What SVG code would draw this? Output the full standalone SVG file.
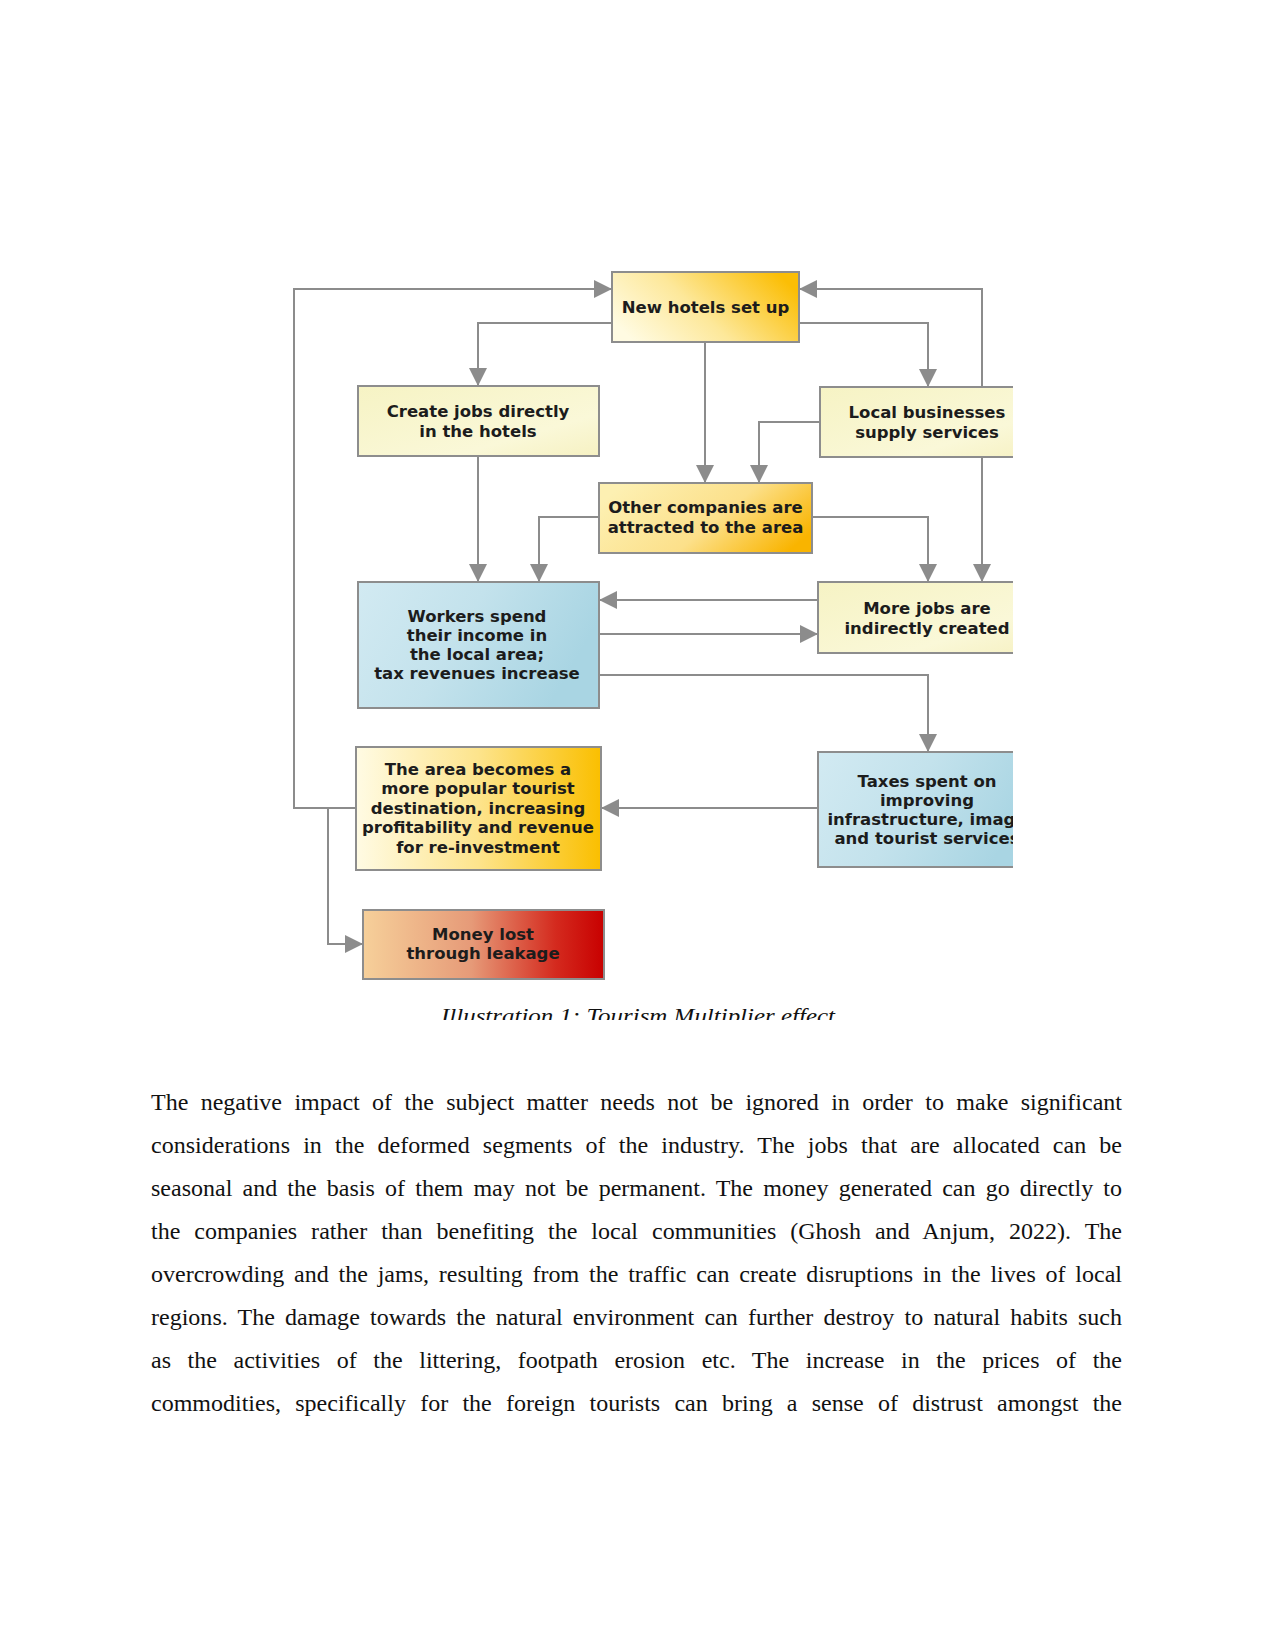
<svg xmlns="http://www.w3.org/2000/svg" width="1275" height="1650" viewBox="0 0 1275 1650">
<style>
.box{stroke:#8d8d8d;stroke-width:2}
.nt{font-family:"DejaVu Sans",Verdana,sans-serif;font-weight:bold;font-size:16.5px;fill:#1c1c1c;text-anchor:middle}
.con{fill:none;stroke:#8c8c8c;stroke-width:2}
.body{font-family:"Liberation Serif","Times New Roman",serif;font-size:24px;fill:#111}
.cap{font-family:"Liberation Serif","Times New Roman",serif;font-style:italic;font-size:22px;fill:#111}
</style>
<defs>
<clipPath id="frame"><rect x="0" y="0" width="1013" height="1020"/></clipPath>
<marker id="ah" markerUnits="userSpaceOnUse" markerWidth="18" markerHeight="18" refX="17" refY="9" orient="auto"><path d="M0,0 L18,9 L0,18 z" fill="#8c8c8c"/></marker>
<linearGradient id="gHotel" x1="0" y1="0.7" x2="1" y2="0.3"><stop offset="0" stop-color="#fffbe2"/><stop offset="0.45" stop-color="#fde89a"/><stop offset="1" stop-color="#fbbe05"/></linearGradient>
<linearGradient id="gPale" x1="0" y1="0" x2="1" y2="1"><stop offset="0" stop-color="#f6f3c4"/><stop offset="0.7" stop-color="#faf8d8"/><stop offset="1" stop-color="#f6f1c2"/></linearGradient>
<linearGradient id="gOther" x1="0" y1="0.3" x2="1" y2="0.7"><stop offset="0" stop-color="#fdf0b2"/><stop offset="0.55" stop-color="#fce08a"/><stop offset="1" stop-color="#f9b400"/></linearGradient>
<linearGradient id="gBlue" x1="0" y1="0" x2="1" y2="0.3"><stop offset="0" stop-color="#d2eaf2"/><stop offset="0.5" stop-color="#c3e2ec"/><stop offset="1" stop-color="#a9d5e3"/></linearGradient>
<linearGradient id="gArea" x1="0" y1="0" x2="1" y2="0"><stop offset="0" stop-color="#fffbe4"/><stop offset="0.5" stop-color="#fde48c"/><stop offset="1" stop-color="#fabf00"/></linearGradient>
<linearGradient id="gMoney" x1="0" y1="0" x2="1" y2="0"><stop offset="0" stop-color="#f6d09a"/><stop offset="0.45" stop-color="#e69a78"/><stop offset="0.8" stop-color="#d42a1e"/><stop offset="1" stop-color="#c80000"/></linearGradient>
</defs>
<rect x="0" y="0" width="1275" height="1650" fill="#ffffff"/>
<g clip-path="url(#frame)">
<g id="connectors">
<path class="con" d="M356,808 H294 V289 H611" marker-end="url(#ah)"/>
<path class="con" d="M612,323 H478 V385" marker-end="url(#ah)"/>
<path class="con" d="M799,323 H928 V386" marker-end="url(#ah)"/>
<path class="con" d="M982,387 V289 H800" marker-end="url(#ah)"/>
<path class="con" d="M705,342 V482" marker-end="url(#ah)"/>
<path class="con" d="M820,422 H759 V482" marker-end="url(#ah)"/>
<path class="con" d="M478,456 V581" marker-end="url(#ah)"/>
<path class="con" d="M599,517 H539 V581" marker-end="url(#ah)"/>
<path class="con" d="M812,517 H928 V581" marker-end="url(#ah)"/>
<path class="con" d="M982,457 V581" marker-end="url(#ah)"/>
<path class="con" d="M818,600 H600" marker-end="url(#ah)"/>
<path class="con" d="M599,634 H817" marker-end="url(#ah)"/>
<path class="con" d="M599,675 H928 V751" marker-end="url(#ah)"/>
<path class="con" d="M818,808 H602" marker-end="url(#ah)"/>
<path class="con" d="M328,808 V944 H362" marker-end="url(#ah)"/>
</g>
<g id="n-hotels">
<rect class="box" x="612" y="272" width="187" height="70" fill="url(#gHotel)"/>
<text class="nt" x="705.5" y="313">New hotels set up</text>
</g>
<g id="n-jobs-direct">
<rect class="box" x="358" y="386" width="241" height="70" fill="url(#gPale)"/>
<text class="nt" x="478" y="417">Create jobs directly</text>
<text class="nt" x="478" y="437">in the hotels</text>
</g>
<g id="n-local">
<rect class="box" x="820" y="387" width="216" height="70" fill="url(#gPale)"/>
<text class="nt" x="927" y="418">Local businesses</text>
<text class="nt" x="927" y="438">supply services</text>
</g>
<g id="n-other">
<rect class="box" x="599" y="483" width="213" height="70" fill="url(#gOther)"/>
<text class="nt" x="705.5" y="513">Other companies are</text>
<text class="nt" x="705.5" y="533">attracted to the area</text>
</g>
<g id="n-workers">
<rect class="box" x="358" y="582" width="241" height="126" fill="url(#gBlue)"/>
<text class="nt" x="477" y="622">Workers spend</text>
<text class="nt" x="477" y="641">their income in</text>
<text class="nt" x="477" y="660">the local area;</text>
<text class="nt" x="477" y="679">tax revenues increase</text>
</g>
<g id="n-more-jobs">
<rect class="box" x="818" y="582" width="218" height="71" fill="url(#gPale)"/>
<text class="nt" x="927" y="614">More jobs are</text>
<text class="nt" x="927" y="634">indirectly created</text>
</g>
<g id="n-taxes">
<rect class="box" x="818" y="752" width="218" height="115" fill="url(#gBlue)"/>
<text class="nt" x="927" y="787">Taxes spent on</text>
<text class="nt" x="927" y="806">improving</text>
<text class="nt" x="927" y="825">infrastructure, image</text>
<text class="nt" x="927" y="844">and tourist services</text>
</g>
<g id="n-area">
<rect class="box" x="356" y="747" width="245" height="123" fill="url(#gArea)"/>
<text class="nt" x="478" y="775">The area becomes a</text>
<text class="nt" x="478" y="794">more popular tourist</text>
<text class="nt" x="478" y="814">destination, increasing</text>
<text class="nt" x="478" y="833">profitability and revenue</text>
<text class="nt" x="478" y="853">for re-investment</text>
</g>
<g id="n-money">
<rect class="box" x="363" y="910" width="241" height="69" fill="url(#gMoney)"/>
<text class="nt" x="483" y="940">Money lost</text>
<text class="nt" x="483" y="959">through leakage</text>
</g>
<text class="cap" x="441" y="1023" textLength="394" lengthAdjust="spacingAndGlyphs">Illustration 1: Tourism Multiplier effect</text>
</g>
<g id="body-text">
<text class="body" x="151" y="1110" word-spacing="6.4" textLength="971" lengthAdjust="spacing">The negative impact of the subject matter needs not be ignored in order to make significant</text>
<text class="body" x="151" y="1153" word-spacing="7.1" textLength="971" lengthAdjust="spacing">considerations in the deformed segments of the industry. The jobs that are allocated can be</text>
<text class="body" x="151" y="1196" word-spacing="4.2" textLength="971" lengthAdjust="spacing">seasonal and the basis of them may not be permanent. The money generated can go directly to</text>
<text class="body" x="151" y="1239" word-spacing="7.9" textLength="971" lengthAdjust="spacing">the companies rather than benefiting the local communities (Ghosh and Anjum, 2022). The</text>
<text class="body" x="151" y="1282" word-spacing="3.8" textLength="971" lengthAdjust="spacing">overcrowding and the jams, resulting from the traffic can create disruptions in the lives of local</text>
<text class="body" x="151" y="1325" word-spacing="4.2" textLength="971" lengthAdjust="spacing">regions. The damage towards the natural environment can further destroy to natural habits such</text>
<text class="body" x="151" y="1368" word-spacing="10.6" textLength="971" lengthAdjust="spacing">as the activities of the littering, footpath erosion etc. The increase in the prices of the</text>
<text class="body" x="151" y="1411" word-spacing="8.2" textLength="971" lengthAdjust="spacing">commodities, specifically for the foreign tourists can bring a sense of distrust amongst the</text>
</g>
</svg>
